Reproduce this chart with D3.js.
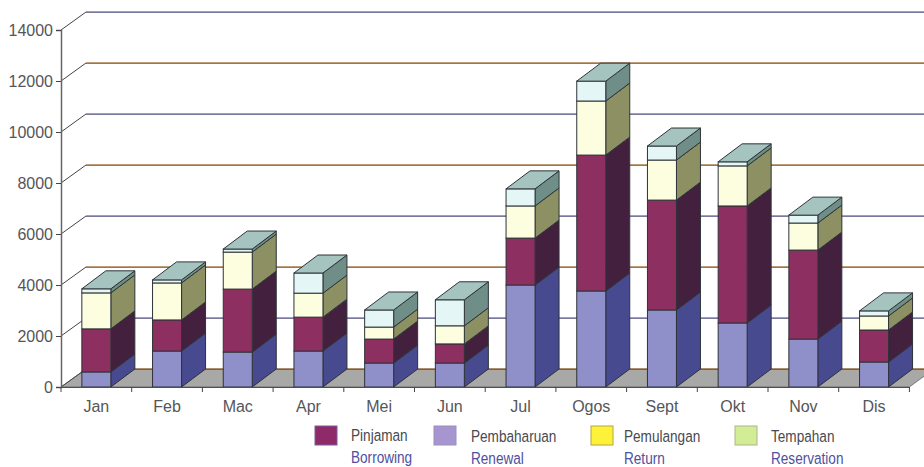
<!DOCTYPE html>
<html>
<head>
<meta charset="utf-8">
<script src="https://cdn.jsdelivr.net/npm/d3@7"></script>
<style>
  html, body { margin: 0; padding: 0; background: #fff; overflow: hidden; }
  svg { display: block; }
  .axis text { font-family: "Liberation Sans", Arial, sans-serif; font-size: 16px; fill: #55555a; }
  .legend text { font-family: "Liberation Sans", Arial, sans-serif; font-size: 17px; }
</style>
</head>
<body>
<div id="chart"></div>
<script>
const months = ['Jan', 'Feb', 'Mac', 'Apr', 'Mei', 'Jun', 'Jul', 'Ogos', 'Sept', 'Okt', 'Nov', 'Dis'];

// stacked bottom to top: renewal, borrowing, return, reservation
const pembaharuan = [590, 1410, 1370, 1410, 940, 940, 4000, 3765, 3020, 2510, 1880, 980];
const pinjaman = [1690, 1220, 2470, 1330, 940, 750, 1840, 5330, 4310, 4590, 3490, 1255];
const pemulangan = [1410, 1450, 1450, 940, 470, 710, 1260, 2120, 1570, 1570, 1060, 550];
const tempahan = [160, 120, 120, 790, 670, 1020, 670, 780, 550, 160, 310, 200];

const yTicks = [0, 2000, 4000, 6000, 8000, 10000, 12000, 14000];

const legendMalay = ['Pinjaman', 'Pembaharuan', 'Pemulangan', 'Tempahan'];
const legendEnglish = ['Borrowing', 'Renewal', 'Return', 'Reservation'];

const width = 924;
const height = 467;
const depthX = 24;
const depthY = 18;

const svg = d3.select('#chart').append('svg')
    .attr('width', width)
    .attr('height', height);

const x = d3.scaleBand()
    .domain(months)
    .range([61, 61 + 70.7 * 12])
    .paddingInner(1 - 29 / 70.7)
    .paddingOuter((1 - 29 / 70.7) / 2);

const y = d3.scaleLinear().domain([0, 14000]).range([387, 30]);

// floor of the 3d box
svg.append('polygon')
    .attr('points', [
        [61, y(0)],
        [61 + depthX + 1, y(0) - depthY],
        [width + 10, y(0) - depthY],
        [x.range()[1], y(0)]
    ].join(' '))
    .attr('fill', '#a8a8a6')
    .attr('stroke', '#444')
    .attr('stroke-width', 0.6);

// gridlines: side diagonal plus back wall, printed with orange over blue
yTicks.forEach(t => {
    const gy = y(t);
    svg.append('line')
        .attr('x1', 61).attr('y1', gy)
        .attr('x2', 61 + depthX + 1).attr('y2', gy - depthY)
        .attr('stroke', '#444').attr('stroke-width', 1);
    svg.append('line')
        .attr('x1', 61 + depthX + 1).attr('y1', gy - depthY + 0.3)
        .attr('x2', width).attr('y2', gy - depthY + 0.3)
        .attr('stroke', '#3f4a96').attr('stroke-width', 1.1);
    svg.append('line')
        .attr('x1', 61 + depthX + 1).attr('y1', gy - depthY - 0.3)
        .attr('x2', width).attr('y2', gy - depthY - 0.3)
        .attr('stroke', '#b5803f').attr('stroke-width', 0.8);
});

const seriesList = [
    { values: pembaharuan, front: '#8f8fc9', side: '#484a90' },
    { values: pinjaman, front: '#8e2f62', side: '#44203f' },
    { values: pemulangan, front: '#fdfde0', side: '#8d9063' },
    { values: tempahan, front: '#e4f6f6', side: '#6f8e88' }
];
const topColor = '#a6c4bf';
const edge = '#2e3338';

months.forEach((m, i) => {
    const bx = x(m);
    const bw = x.bandwidth();
    let total = 0;
    const g = svg.append('g').attr('class', 'bar');
    seriesList.forEach(s => {
        const y0 = y(total);
        total += s.values[i];
        const y1 = y(total);
        // side face
        g.append('polygon')
            .attr('points', [
                [bx + bw, y0],
                [bx + bw + depthX, y0 - depthY],
                [bx + bw + depthX, y1 - depthY],
                [bx + bw, y1]
            ].join(' '))
            .attr('fill', s.side)
            .attr('stroke', edge)
            .attr('stroke-width', 1);
        // front face
        g.append('rect')
            .attr('x', bx)
            .attr('y', y1)
            .attr('width', bw)
            .attr('height', y0 - y1)
            .attr('fill', s.front)
            .attr('stroke', edge)
            .attr('stroke-width', 1);
    });
    // top face
    const yt = y(total);
    g.append('polygon')
        .attr('points', [
            [bx, yt],
            [bx + depthX, yt - depthY],
            [bx + bw + depthX, yt - depthY],
            [bx + bw, yt]
        ].join(' '))
        .attr('fill', topColor)
        .attr('stroke', edge)
        .attr('stroke-width', 1);
});

// axes
const yAxis = svg.append('g')
    .attr('class', 'axis')
    .attr('transform', 'translate(61,0)')
    .call(d3.axisLeft(y).tickValues(yTicks).tickFormat(d3.format('d')).tickSize(5).tickPadding(3));
yAxis.selectAll('line').attr('stroke', '#444');
yAxis.select('.domain').attr('stroke', '#666').attr('stroke-width', 1.5);

const xAxis = svg.append('g')
    .attr('class', 'axis')
    .attr('transform', `translate(0,${y(0)})`)
    .call(d3.axisBottom(x).tickSize(0).tickPadding(14));
xAxis.select('.domain').attr('stroke', '#3f4a96').attr('stroke-width', 1);

// ticks sit between the categories
svg.append('g').selectAll('line')
    .data(d3.range(months.length + 1))
    .join('line')
    .attr('x1', i => 61 + i * x.step())
    .attr('x2', i => 61 + i * x.step())
    .attr('y1', y(0))
    .attr('y2', y(0) + 5)
    .attr('stroke', '#444');

// legend, the print uses a condensed face so squeeze the text
const legendX = [315, 434, 591, 735];
const legendTextX = [351, 471, 624, 771];
const swatchFill = ['#8e2a68', '#a795cf', '#fdf13a', '#d3ec96'];
const swatchStroke = ['#7a5aa0', '#9a8fc0', '#b5a53a', '#a8b884'];

const legend = svg.append('g').attr('class', 'legend');
legendMalay.forEach((label, i) => {
    legend.append('rect')
        .attr('x', legendX[i])
        .attr('y', 426)
        .attr('width', 22)
        .attr('height', 19)
        .attr('fill', swatchFill[i])
        .attr('stroke', swatchStroke[i]);
    legend.append('text')
        .attr('transform', `translate(${legendTextX[i]},${i === 0 ? 441 : 442}) scale(0.8,1)`)
        .attr('fill', '#4a4a50')
        .text(label);
    legend.append('text')
        .attr('transform', `translate(${legendTextX[i]},${i === 0 ? 463 : 464}) scale(0.8,1)`)
        .attr('fill', '#4f50a0')
        .text(legendEnglish[i]);
});
</script>
</body>
</html>
